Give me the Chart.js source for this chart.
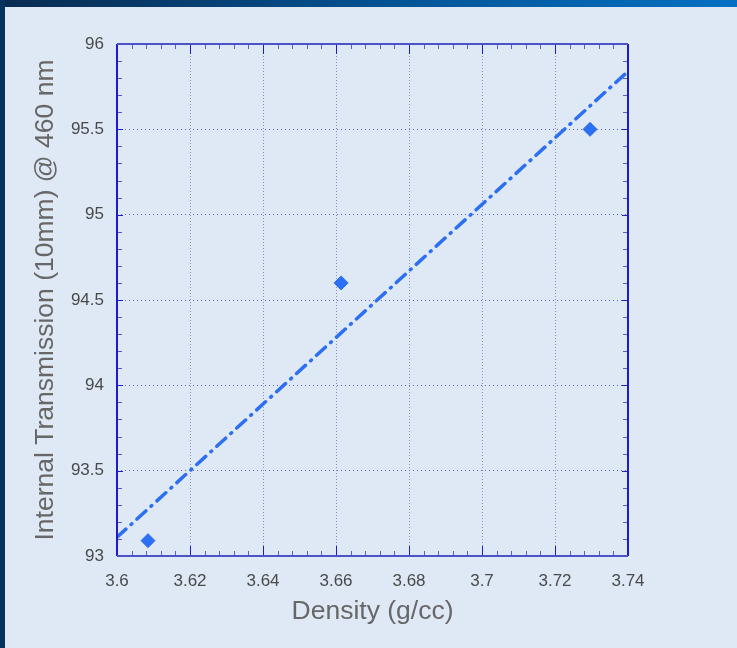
<!DOCTYPE html>
<html>
<head>
<meta charset="utf-8">
<script src="https://cdn.jsdelivr.net/npm/chart.js@4/dist/chart.umd.min.js"></script>
<style>
  html, body { margin: 0; padding: 0; }
  body { width: 737px; height: 648px; background: #dee9f5; position: relative; overflow: hidden; }
  .topbar { position: absolute; left: 0; top: 0; width: 737px; height: 7px; background: linear-gradient(to right, #0a2b50, #02589c 60%, #0570c2); }
  .leftbar { position: absolute; left: 0; top: 0; width: 5px; height: 648px; background: #06335e; }
  #wrap { position: absolute; left: 0; top: 0; width: 737px; height: 648px; }
</style>
</head>
<body>
<div id="wrap"><canvas id="chart"></canvas></div>
<div class="topbar"></div>
<div class="leftbar"></div>
<script>
// measured points
const density = [3.6085, 3.6614, 3.7296];
const transmission = [93.09, 94.6, 95.5];

// trend line end points
const trendX = [3.6, 3.74];
const trendY = [93.11, 95.84];

// axis ticks
const xTicks = [3.6, 3.62, 3.64, 3.66, 3.68, 3.7, 3.72, 3.74];
const yTicks = [93, 93.5, 94, 94.5, 95, 95.5, 96];

const blue = '#2c6ff2';
const axisBlue = '#1c1cc8';
const tickFont = { family: 'Liberation Sans, Arial, sans-serif', size: 17 };
const titleFont = { family: 'Liberation Sans, Arial, sans-serif', size: 26.5 };

// box round the plot with inward ticks on all four sides
const framePlugin = {
    id: 'frame',
    afterDraw(chart) {
        const ctx = chart.ctx;
        const a = chart.chartArea;
        const xs = chart.scales.x;
        const ys = chart.scales.y;
        ctx.save();

        // minor ticks
        ctx.strokeStyle = '#5a5ccc';
        ctx.lineWidth = 1;
        ctx.beginPath();
        for (let i = 0; i < xTicks.length - 1; i++) {
            for (let k = 1; k < 5; k++) {
                const px = Math.round(xs.getPixelForValue(xTicks[i] + (xTicks[i + 1] - xTicks[i]) * k / 5)) + 0.5;
                ctx.moveTo(px, a.bottom); ctx.lineTo(px, a.bottom - 5);
                ctx.moveTo(px, a.top); ctx.lineTo(px, a.top + 5);
            }
        }
        for (let i = 0; i < yTicks.length - 1; i++) {
            for (let k = 1; k < 5; k++) {
                const py = Math.round(ys.getPixelForValue(yTicks[i] + (yTicks[i + 1] - yTicks[i]) * k / 5)) + 0.5;
                ctx.moveTo(a.left, py); ctx.lineTo(a.left + 5, py);
                ctx.moveTo(a.right, py); ctx.lineTo(a.right - 5, py);
            }
        }
        ctx.stroke();

        // major ticks
        ctx.strokeStyle = axisBlue;
        ctx.beginPath();
        xTicks.forEach(v => {
            const px = Math.round(xs.getPixelForValue(v)) + 0.5;
            ctx.moveTo(px, a.bottom); ctx.lineTo(px, a.bottom - 10);
            ctx.moveTo(px, a.top); ctx.lineTo(px, a.top + 10);
        });
        yTicks.forEach(v => {
            const py = Math.round(ys.getPixelForValue(v)) + 0.5;
            ctx.moveTo(a.left, py); ctx.lineTo(a.left + 6, py);
            ctx.moveTo(a.right, py); ctx.lineTo(a.right - 6, py);
        });
        ctx.stroke();

        // axis lines
        ctx.lineWidth = 2;
        ctx.beginPath();
        ctx.moveTo(a.left, a.top); ctx.lineTo(a.left, a.bottom);
        ctx.moveTo(a.right, a.top); ctx.lineTo(a.right, a.bottom);
        ctx.stroke();
        ctx.strokeStyle = '#4f52c4';
        ctx.beginPath();
        ctx.moveTo(a.left, a.top); ctx.lineTo(a.right, a.top);
        ctx.moveTo(a.left, a.bottom); ctx.lineTo(a.right, a.bottom);
        ctx.stroke();
        ctx.restore();
    }
};

new Chart(document.getElementById('chart'), {
    type: 'scatter',
    data: {
        datasets: [
            {
                label: 'Trend',
                type: 'line',
                data: trendX.map((x, i) => ({ x: x, y: trendY[i] })),
                borderColor: blue,
                borderWidth: 3.5,
                borderDash: [12, 7, 1, 7],
                borderCapStyle: 'round',
                pointRadius: 0,
                fill: false,
            },
            {
                label: 'Measured',
                data: density.map((x, i) => ({ x: x, y: transmission[i] })),
                pointStyle: 'rectRot',
                pointRadius: 7,
                backgroundColor: blue,
                borderColor: blue,
                borderWidth: 1,
            },
        ],
    },
    options: {
        responsive: true,
        maintainAspectRatio: false,
        animation: false,
        layout: { padding: { left: 0, top: 44, right: 109, bottom: 0 } },
        plugins: {
            legend: { display: false },
            tooltip: { enabled: false },
        },
        scales: {
            x: {
                type: 'linear',
                min: 3.6,
                max: 3.74,
                afterBuildTicks: s => { s.ticks = xTicks.map(v => ({ value: v })); },
                afterFit: s => { s.height = 92; },
                ticks: {
                    callback: v => String(v),
                    font: tickFont,
                    color: '#4a4a4a',
                    padding: 15,
                    maxRotation: 0,
                },
                grid: { color: '#8b90c8', drawTicks: false, lineWidth: 1 },
                border: { display: false, dash: [1, 2] },
                title: {
                    display: true,
                    text: 'Density (g/cc)',
                    font: titleFont,
                    color: '#676767',
                    padding: { top: 0, bottom: 20 },
                },
            },
            y: {
                type: 'linear',
                min: 93,
                max: 96,
                afterBuildTicks: s => { s.ticks = yTicks.map(v => ({ value: v })); },
                afterFit: s => { s.width = 117; },
                ticks: {
                    callback: v => String(v),
                    font: tickFont,
                    color: '#4a4a4a',
                    padding: 13,
                },
                grid: { color: '#5f64bd', drawTicks: false, lineWidth: 1 },
                border: { display: false, dash: [1, 3] },
                title: {
                    display: true,
                    text: 'Internal Transmission (10mm) @ 460 nm',
                    font: titleFont,
                    color: '#676767',
                    padding: { top: 30, bottom: 0 },
                },
            },
        },
    },
    plugins: [framePlugin],
});
</script>
</body>
</html>
